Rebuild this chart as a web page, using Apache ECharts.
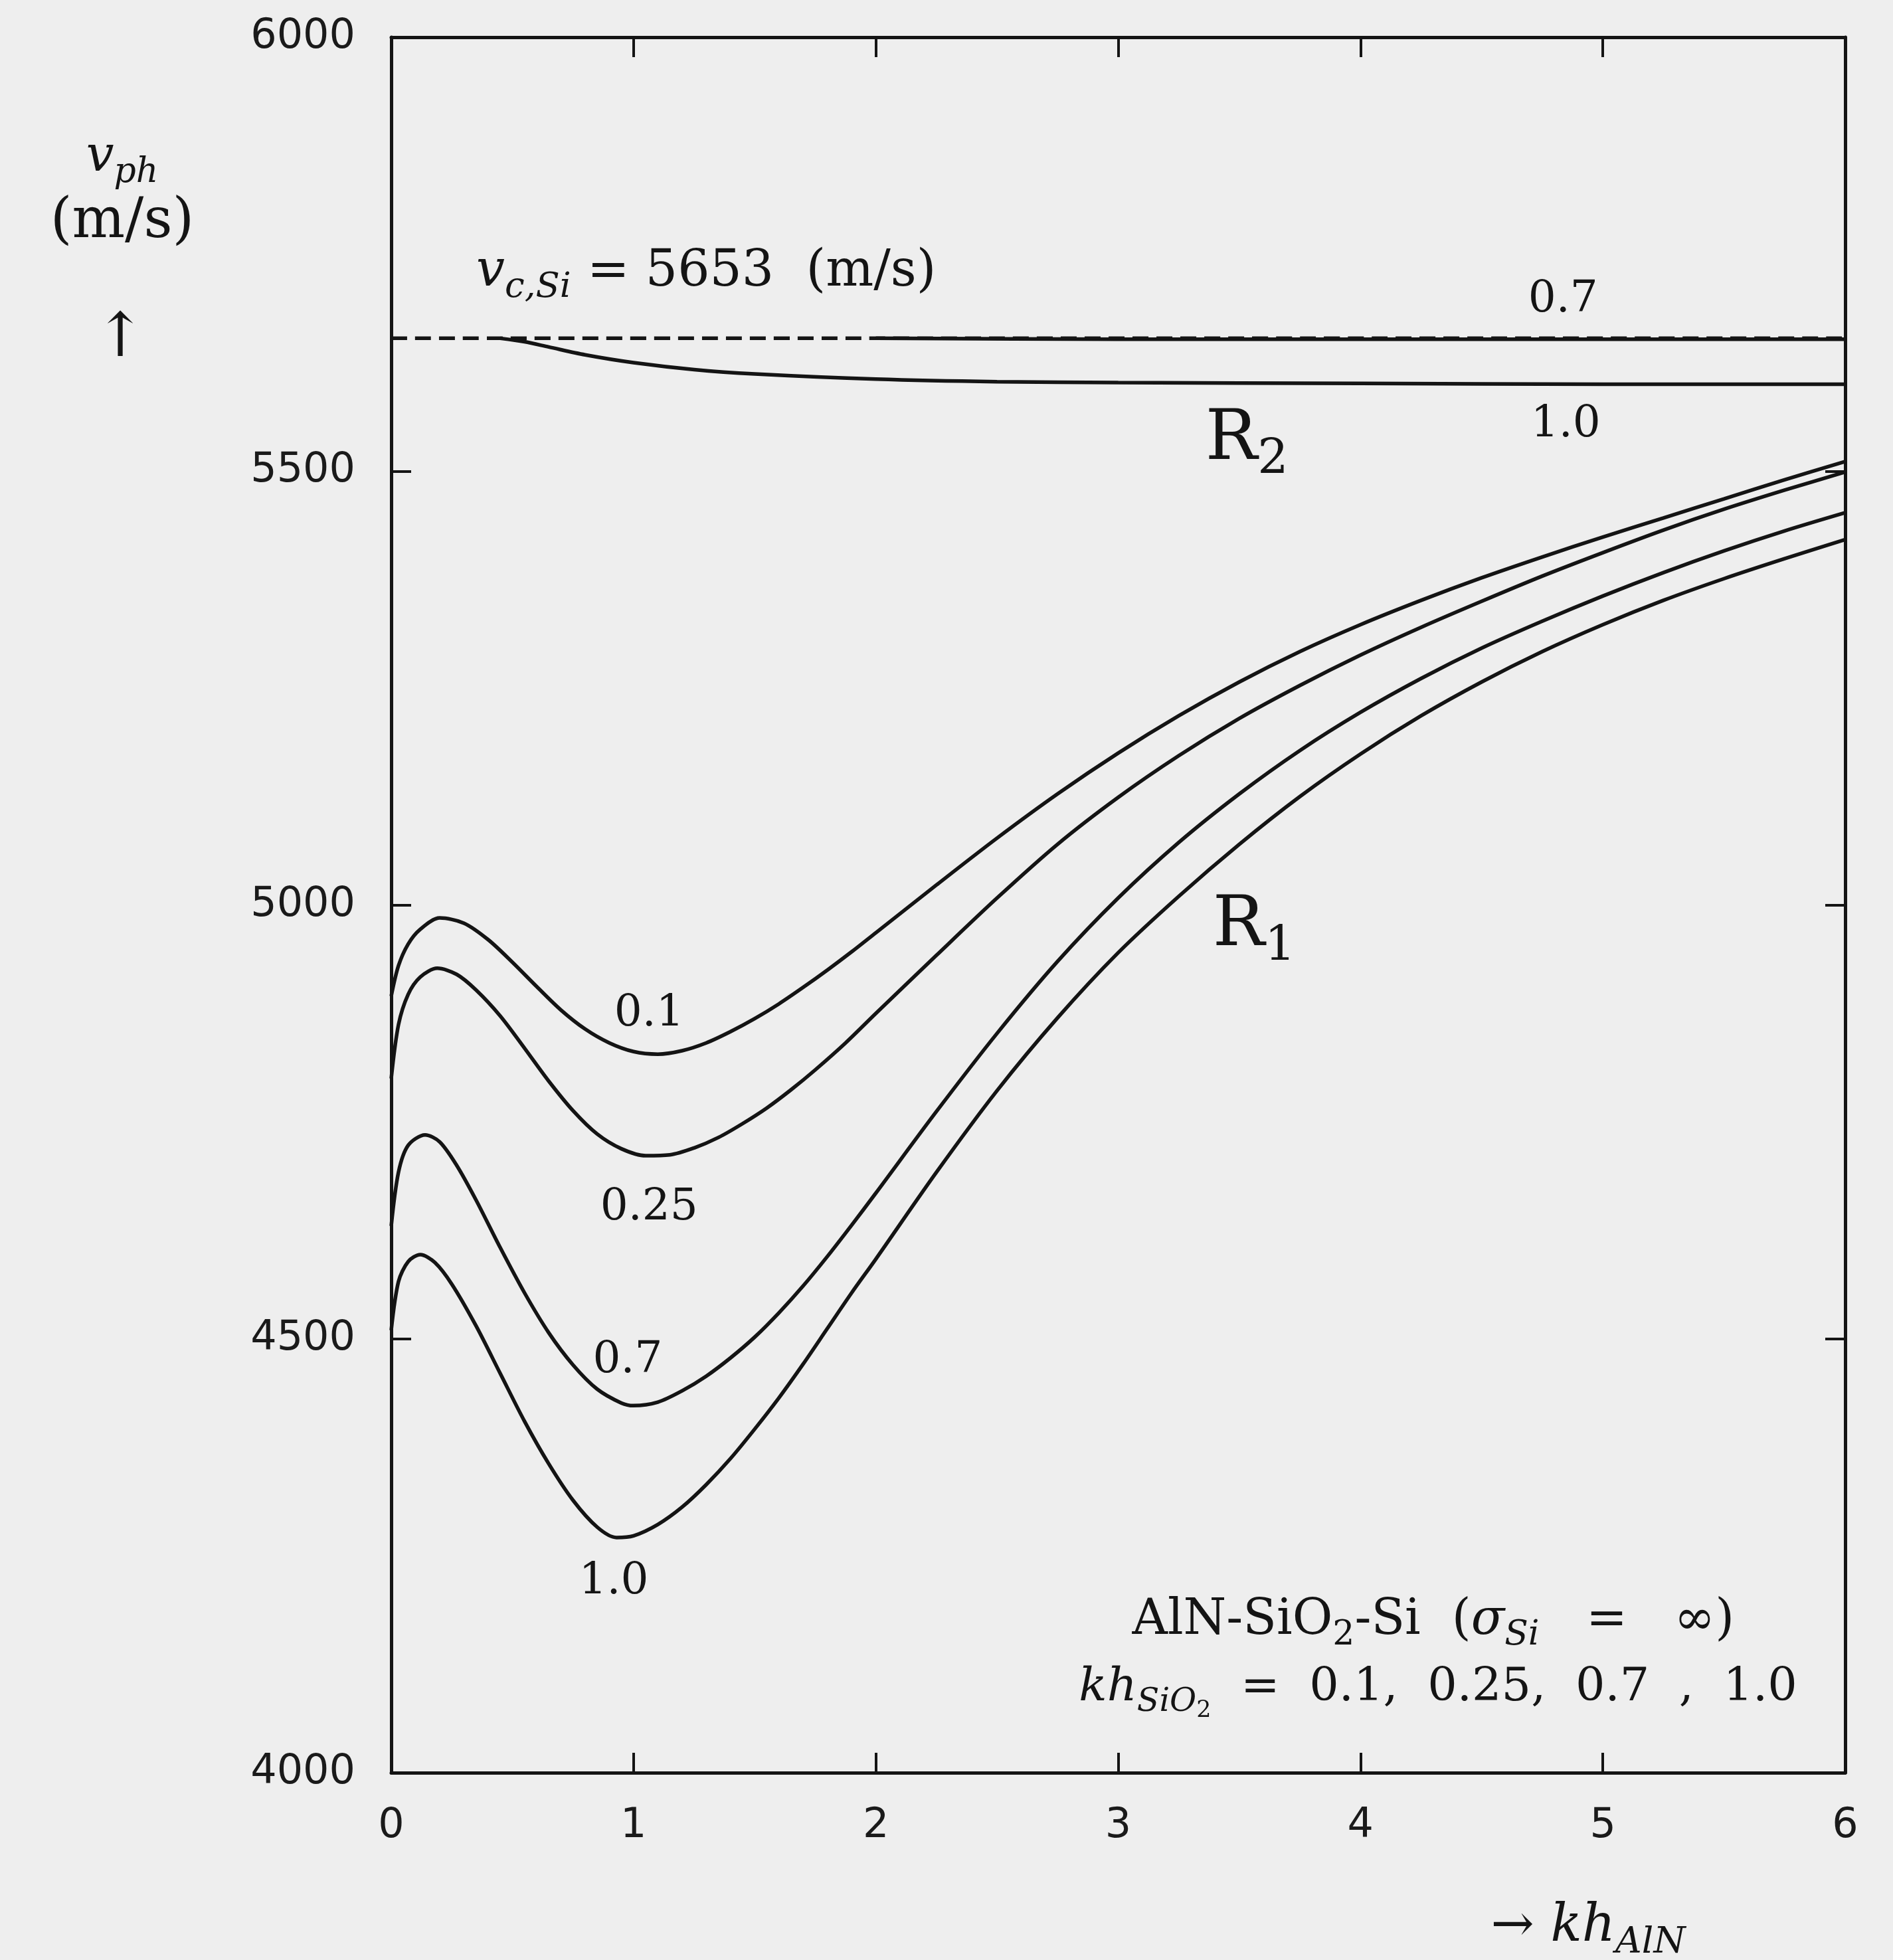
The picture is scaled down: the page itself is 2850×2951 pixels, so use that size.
<!DOCTYPE html>
<html>
<head>
<meta charset="utf-8">
<script src="https://cdn.jsdelivr.net/npm/echarts@6/dist/echarts.min.js"></script>
<style>
html,body{margin:0;padding:0;background:#eeeeee;}
#c{width:2850px;height:2951px;}
</style>
</head>
<body>
<div id="c"></div>
<script>
// ---------------- data ----------------
const xTickValues = [0, 1, 2, 3, 4, 5, 6];
const yTickValues = [4000, 4500, 5000, 5500, 6000];
const vCutoffSi = 5653;
const cutoffLine = [[0, 5653], [6, 5653]];

// R1 mode, kh_SiO2 = 0.1
const r1_kh010 = [[0,4895],[0.03,4930],[0.07,4955],[0.12,4972],[0.2,4985],[0.3,4979],[0.4,4960],[0.5,4934],[0.6,4906],[0.7,4879],[0.8,4857],[0.9,4841],[1.0,4831],[1.1,4828],[1.2,4832],[1.3,4841],[1.4,4854],[1.5,4869],[1.6,4886],[1.7,4905],[1.8,4925],[1.9,4946],[2.0,4968],[2.25,5023],[2.5,5077],[2.75,5128],[3.0,5175],[3.25,5218],[3.5,5257],[3.75,5292],[4.0,5323],[4.25,5351],[4.5,5377],[4.75,5401],[5.0,5424],[5.25,5446],[5.5,5468],[5.75,5490],[6.0,5511]];
// R1 mode, kh_SiO2 = 0.25
const r1_kh025 = [[0,4800],[0.03,4862],[0.07,4897],[0.12,4917],[0.19,4927],[0.27,4920],[0.35,4902],[0.45,4872],[0.55,4835],[0.65,4797],[0.75,4763],[0.85,4736],[0.95,4719],[1.05,4711],[1.15,4712],[1.25,4720],[1.35,4732],[1.45,4748],[1.55,4766],[1.65,4787],[1.75,4810],[1.875,4841],[2.0,4875],[2.25,4942],[2.5,5008],[2.75,5070],[3.0,5124],[3.25,5172],[3.5,5215],[3.75,5253],[4.0,5288],[4.25,5320],[4.5,5350],[4.75,5379],[5.0,5406],[5.25,5432],[5.5,5456],[5.75,5478],[6.0,5499]];
// R1 mode, kh_SiO2 = 0.7
const r1_kh070 = [[0,4630],[0.03,4692],[0.07,4723],[0.14,4735],[0.2,4727],[0.27,4700],[0.35,4660],[0.45,4605],[0.55,4553],[0.65,4507],[0.75,4470],[0.85,4442],[0.95,4426],[1.0,4423],[1.1,4427],[1.2,4440],[1.3,4457],[1.4,4478],[1.5,4502],[1.6,4530],[1.7,4561],[1.8,4595],[1.9,4631],[2.0,4668],[2.25,4762],[2.5,4852],[2.75,4935],[3.0,5008],[3.25,5072],[3.5,5128],[3.75,5178],[4.0,5222],[4.25,5261],[4.5,5296],[4.75,5327],[5.0,5356],[5.25,5383],[5.5,5408],[5.75,5431],[6.0,5452]];
// R1 mode, kh_SiO2 = 1.0
const r1_kh100 = [[0,4510],[0.03,4566],[0.07,4589],[0.12,4597],[0.18,4588],[0.25,4563],[0.35,4515],[0.45,4460],[0.55,4405],[0.65,4356],[0.75,4314],[0.85,4283],[0.93,4271],[1.0,4273],[1.1,4286],[1.2,4306],[1.3,4332],[1.4,4362],[1.5,4396],[1.6,4432],[1.7,4471],[1.8,4512],[1.9,4553],[2.0,4592],[2.25,4692],[2.5,4786],[2.75,4870],[3.0,4945],[3.25,5010],[3.5,5070],[3.75,5125],[4.0,5174],[4.25,5218],[4.5,5257],[4.75,5292],[5.0,5323],[5.25,5351],[5.5,5376],[5.75,5399],[6.0,5421]];
// R2 mode
const r2_kh070 = [[2.0,5653],[3,5652],[4,5652],[5,5652],[6,5652]];
const r2_kh100 = [[0.45,5653],[0.55,5649],[0.65,5643],[0.8,5634],[1.0,5625],[1.25,5617],[1.5,5612],[2.0,5606],[2.5,5603],[3.0,5602],[4,5601],[5,5600],[6,5600]];

// ---------------- style ----------------
const SERIF = "'DejaVu Serif', serif";
const SANS = "'DejaVu Sans', sans-serif";
const INK = '#141414';

const chart = echarts.init(document.getElementById('c'), null, {renderer: 'canvas', width: 2850, height: 2951});

function curve(name, data, dashed) {
  return {
    name: name, type: 'line', data: data, showSymbol: false, symbol: 'none',
    smooth: 0.3, clip: true, silent: true,
    lineStyle: {color: INK, width: 5.5, type: dashed ? [24, 12] : 'solid'},
    z: 3
  };
}

const axisCommon = {
  axisLine: {show: true, onZero: false, lineStyle: {color: INK, width: 5}},
  axisTick: {show: true, inside: true, length: 30, lineStyle: {color: INK, width: 4}},
  splitLine: {show: false}
};
const tickLabel = {fontFamily: SANS, fontSize: 62, color: '#1a1a1a',
  formatter: function (v) { return String(v); }};

const option = {
  backgroundColor: '#eeeeee',
  animation: false,
  grid: {left: 589, top: 56, width: 2189, height: 2613, containLabel: false},
  xAxis: [
    Object.assign({type: 'value', position: 'bottom', min: 0, max: 6, interval: 1,
      axisLabel: Object.assign({margin: 50}, tickLabel)}, axisCommon),
    Object.assign({type: 'value', position: 'top', min: 0, max: 6, interval: 1,
      axisLabel: {show: false}}, axisCommon)
  ],
  yAxis: [
    Object.assign({type: 'value', position: 'left', min: 4000, max: 6000, interval: 500,
      axisLabel: Object.assign({margin: 54}, tickLabel)}, axisCommon),
    Object.assign({type: 'value', position: 'right', min: 4000, max: 6000, interval: 500,
      axisLabel: {show: false}}, axisCommon)
  ],
  series: [
    curve('cutoff', cutoffLine, true),
    curve('R2 0.7', r2_kh070),
    curve('R2 1.0', r2_kh100),
    curve('R1 0.1', r1_kh010),
    curve('R1 0.25', r1_kh025),
    curve('R1 0.7', r1_kh070),
    curve('R1 1.0', r1_kh100)
  ]
};
chart.setOption(option);

// ---------------- annotations ----------------
function rich(b) {
  const base = {fontFamily: SERIF, color: INK, fontSize: b, lineHeight: Math.round(b * 1.3)};
  return {
    n: Object.assign({}, base),
    i: Object.assign({}, base, {fontStyle: 'italic'}),
    sub: Object.assign({}, base, {fontSize: Math.round(b * 0.7), padding: [Math.round(b * 0.6), 0, 0, 0]}),
    subi: Object.assign({}, base, {fontStyle: 'italic', fontSize: Math.round(b * 0.7), padding: [Math.round(b * 0.6), 0, 0, 0]}),
    sub2: Object.assign({}, base, {fontSize: Math.round(b * 0.5), padding: [Math.round(b * 0.95), 0, 0, 0]})
  };
}

// positions in data coordinates (layout, not data)
const dataLabels = [
  {at: [1.30, 5729], size: 76, text: '{i|v}{subi|c,Si}{n| = 5653  (m/s)}'},
  {at: [4.836, 5697], size: 66, text: '{n|0.7}'},
  {at: [4.847, 5553], size: 66, text: '{n|1.0}'},
  {at: [3.531, 5535], size: 104, text: '{n|R}{sub|2}'},
  {at: [3.561, 4974], size: 104, text: '{n|R}{sub|1}'},
  {at: [1.064, 4874], size: 66, text: '{n|0.1}'},
  {at: [1.064, 4651], size: 66, text: '{n|0.25}'},
  {at: [0.976, 4475], size: 66, text: '{n|0.7}'},
  {at: [0.918, 4220], size: 66, text: '{n|1.0}'},
  {at: [4.30, 4175], size: 74, text: '{n|AlN-SiO}{sub|2}{n|-Si  (}{i|σ}{subi|Si}{n|   =   ∞)}'},
  {at: [4.32, 4097], size: 70, text: '{i|kh}{subi|SiO}{sub2|2}{n|  =  0.1,  0.25,  0.7  ,  1.0}'}
];
const pixelLabels = [
  {at: [184, 238], size: 74, text: '{i|v}{subi|ph}'},
  {at: [184, 335], size: 84, text: '{n|(m/s)}'},
  {at: [181, 512], size: 92, text: '{n|↑}'},
  {at: [2391, 2902], size: 78, text: '{n|→ }{i|kh}{subi|AlN}'}
];

const graphics = [];
dataLabels.forEach(function (l) {
  const p = chart.convertToPixel({seriesIndex: 0}, l.at);
  graphics.push({type: 'text', x: p[0], y: p[1], z: 10, silent: true,
    style: {text: l.text, rich: rich(l.size), align: 'center', verticalAlign: 'middle', fill: INK}});
});
pixelLabels.forEach(function (l) {
  graphics.push({type: 'text', x: l.at[0], y: l.at[1], z: 10, silent: true,
    style: {text: l.text, rich: rich(l.size), align: 'center', verticalAlign: 'middle', fill: INK}});
});
chart.setOption({graphic: graphics});
</script>
</body>
</html>
